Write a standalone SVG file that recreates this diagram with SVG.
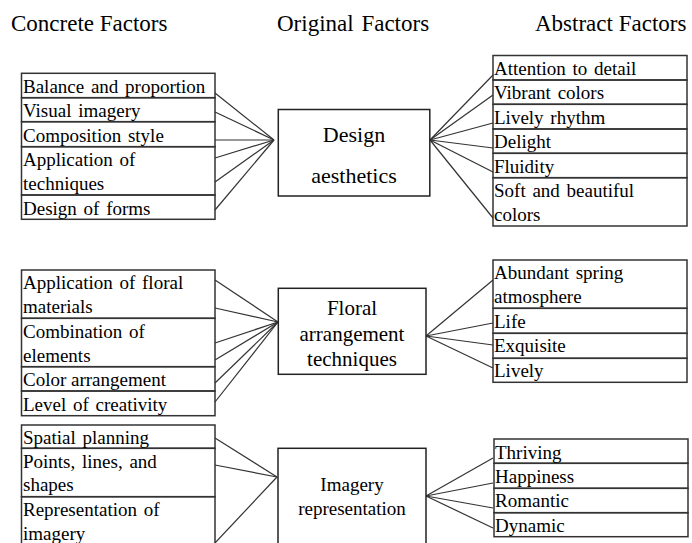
<svg xmlns="http://www.w3.org/2000/svg" width="692" height="543" viewBox="0 0 692 543">
<style>
text{font-family:"Liberation Serif","Times New Roman",serif;fill:#000}
.h{font-size:23px}
.t{font-size:19px}
.ws{word-spacing:2px}
.c{text-anchor:middle}
.box{fill:#fff;stroke:#222;stroke-width:1.5}
.row{fill:none;stroke:#333;stroke-width:1.5}
.con line{stroke:#333;stroke-width:1.2}
</style>
<rect width="692" height="543" fill="#fff"/>
<g id="headings">
<text class="h" x="11" y="30.5">Concrete Factors</text>
<text class="h ws" x="277" y="30.5">Original Factors</text>
<text class="h" x="535" y="30.5">Abstract Factors</text>
</g>
<g id="connectors" class="con">
<line x1="215" y1="93" x2="274" y2="140"/>
<line x1="215" y1="112" x2="274" y2="140"/>
<line x1="215" y1="140" x2="274" y2="140"/>
<line x1="215" y1="158" x2="274" y2="140"/>
<line x1="215" y1="182" x2="274" y2="140"/>
<line x1="215" y1="210" x2="274" y2="140"/>
<line x1="430" y1="140" x2="493" y2="75"/>
<line x1="430" y1="140" x2="493" y2="95"/>
<line x1="430" y1="140" x2="493" y2="123"/>
<line x1="430" y1="140" x2="493" y2="148"/>
<line x1="430" y1="140" x2="493" y2="172"/>
<line x1="430" y1="140" x2="493" y2="218"/>
<line x1="215" y1="280" x2="278" y2="322"/>
<line x1="215" y1="308" x2="278" y2="322"/>
<line x1="215" y1="343" x2="278" y2="322"/>
<line x1="215" y1="360" x2="278" y2="322"/>
<line x1="215" y1="383" x2="278" y2="322"/>
<line x1="215" y1="402" x2="278" y2="322"/>
<line x1="426" y1="336" x2="493" y2="280"/>
<line x1="426" y1="336" x2="493" y2="323"/>
<line x1="426" y1="336" x2="493" y2="345"/>
<line x1="426" y1="336" x2="493" y2="368"/>
<line x1="215" y1="438" x2="277" y2="477"/>
<line x1="215" y1="465" x2="277" y2="477"/>
<line x1="215" y1="543" x2="277" y2="477"/>
<line x1="426" y1="496" x2="493" y2="458"/>
<line x1="426" y1="496" x2="493" y2="483"/>
<line x1="426" y1="496" x2="493" y2="508"/>
<line x1="426" y1="496" x2="493" y2="528"/>
</g>
<g id="design-concrete">
<rect class="row" x="21.5" y="73.3" width="193.5" height="24.4"/>
<rect class="row" x="21.5" y="97.7" width="193.5" height="24"/>
<rect class="row" x="21.5" y="121.7" width="193.5" height="25"/>
<rect class="row" x="21.5" y="146.7" width="193.5" height="48.3"/>
<rect class="row" x="21.5" y="195" width="193.5" height="24.3"/>
<text class="t ws" x="23" y="93">Balance and proportion</text>
<text class="t ws" x="23" y="117">Visual imagery</text>
<text class="t ws" x="23" y="141.5">Composition style</text>
<text class="t ws" x="23" y="166">Application of</text>
<text class="t" x="23" y="190">techniques</text>
<text class="t ws" x="23" y="214.5">Design of forms</text>
</g>
<g id="design-aesthetics">
<rect class="box" x="278.3" y="109.5" width="151.5" height="86.5"/>
<text class="c" style="font-size:22px" x="354" y="142">Design</text>
<text class="c" style="font-size:22px" x="354" y="183">aesthetics</text>
</g>
<g id="design-abstract">
<rect class="row" x="493" y="55.5" width="194" height="24.5"/>
<rect class="row" x="493" y="80" width="194" height="24.3"/>
<rect class="row" x="493" y="104.3" width="194" height="24.7"/>
<rect class="row" x="493" y="129" width="194" height="24.3"/>
<rect class="row" x="493" y="153.3" width="194" height="24.4"/>
<rect class="row" x="493" y="177.7" width="194" height="48.3"/>
<text class="t ws" x="494" y="74.5">Attention to detail</text>
<text class="t ws" x="494" y="99">Vibrant colors</text>
<text class="t ws" x="494" y="123.5">Lively rhythm</text>
<text class="t" x="494" y="148">Delight</text>
<text class="t" x="494" y="172.5">Fluidity</text>
<text class="t ws" x="494" y="196.5">Soft and beautiful</text>
<text class="t" x="494" y="220.5">colors</text>
</g>
<g id="floral-concrete">
<rect class="row" x="21.5" y="270" width="193.5" height="48.3"/>
<rect class="row" x="21.5" y="318.3" width="193.5" height="48.4"/>
<rect class="row" x="21.5" y="366.7" width="193.5" height="24.3"/>
<rect class="row" x="21.5" y="391" width="193.5" height="24.7"/>
<text class="t ws" x="23" y="289">Application of floral</text>
<text class="t" x="23" y="313">materials</text>
<text class="t ws" x="23" y="337.5">Combination of</text>
<text class="t" x="23" y="361.5">elements</text>
<text class="t" x="23" y="386">Color arrangement</text>
<text class="t ws" x="23" y="410.5">Level of creativity</text>
</g>
<g id="floral-arrangement">
<rect class="box" x="278.3" y="288.3" width="147.7" height="86"/>
<text class="c" style="font-size:21px" x="352" y="315">Floral</text>
<text class="c" style="font-size:21px" x="352" y="341">arrangement</text>
<text class="c" style="font-size:21px" x="352" y="366">techniques</text>
</g>
<g id="floral-abstract">
<rect class="row" x="493" y="260" width="194" height="48.3"/>
<rect class="row" x="493" y="308.3" width="194" height="25"/>
<rect class="row" x="493" y="333.3" width="194" height="25"/>
<rect class="row" x="493" y="358.3" width="194" height="24"/>
<text class="t ws" x="494" y="279">Abundant spring</text>
<text class="t" x="494" y="303">atmosphere</text>
<text class="t" x="494" y="327.5">Life</text>
<text class="t" x="494" y="352">Exquisite</text>
<text class="t" x="494" y="376.5">Lively</text>
</g>
<g id="imagery-concrete">
<rect class="row" x="21.5" y="425" width="193.5" height="23.3"/>
<rect class="row" x="21.5" y="448.3" width="193.5" height="48.4"/>
<rect class="row" x="21.5" y="496.7" width="193.5" height="50"/>
<text class="t ws" x="23" y="443.5">Spatial planning</text>
<text class="t ws" x="23" y="467.5">Points, lines, and</text>
<text class="t" x="23" y="491">shapes</text>
<text class="t ws" x="23" y="516">Representation of</text>
<text class="t" x="23" y="540">imagery</text>
</g>
<g id="imagery-representation">
<rect class="box" x="278" y="448.3" width="148" height="100"/>
<text class="c" style="font-size:19px" x="352" y="491">Imagery</text>
<text class="c" style="font-size:19px" x="352" y="515">representation</text>
</g>
<g id="imagery-abstract">
<rect class="row" x="494" y="439" width="194" height="24.3"/>
<rect class="row" x="494" y="463.3" width="194" height="25"/>
<rect class="row" x="494" y="488.3" width="194" height="24.4"/>
<rect class="row" x="494" y="512.7" width="194" height="24"/>
<text class="t" x="495" y="458.5">Thriving</text>
<text class="t" x="495" y="482.5">Happiness</text>
<text class="t" x="495" y="507">Romantic</text>
<text class="t" x="495" y="531.5">Dynamic</text>
</g>
</svg>
